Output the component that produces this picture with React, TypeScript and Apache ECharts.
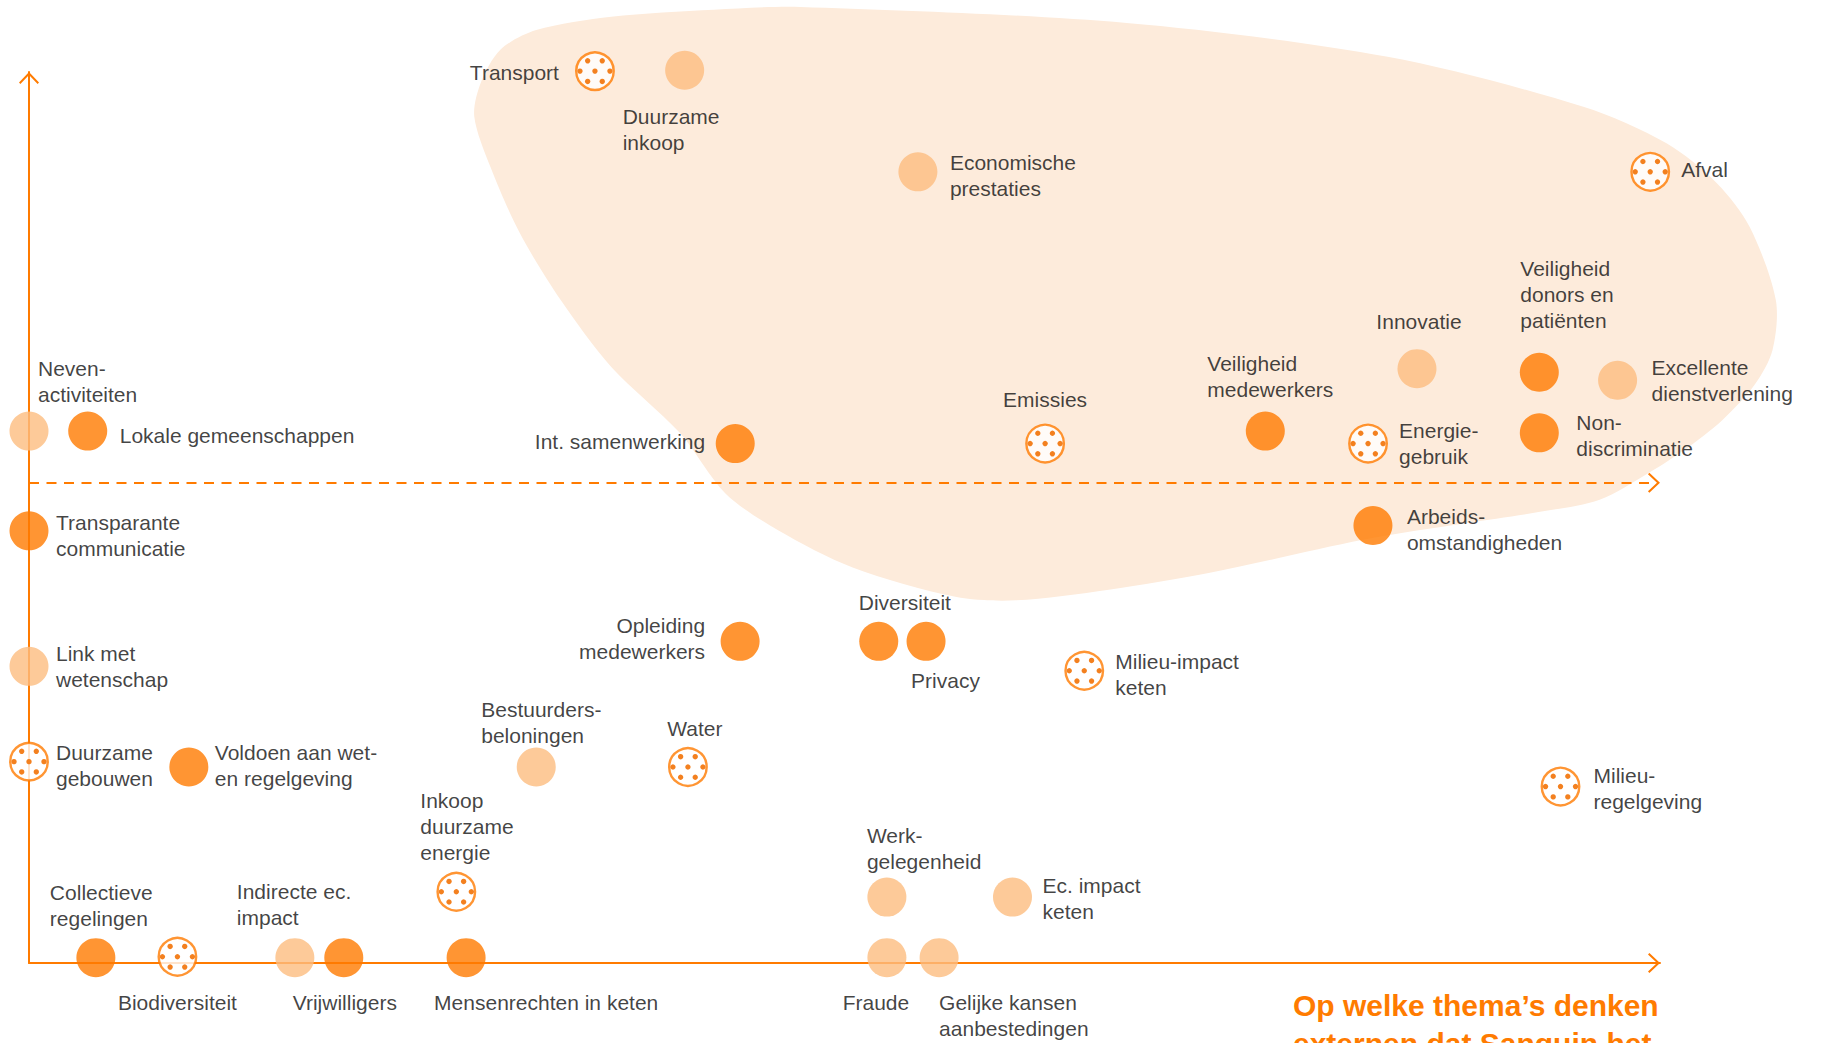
import React, { useEffect, useRef } from 'react';
import * as echarts from 'echarts';

// ---------- data ----------
const themes: string[] = [
  'Transport',
  'Duurzame\ninkoop',
  'Economische\nprestaties',
  'Afval',
  'Veiligheid\ndonors en\npatiënten',
  'Excellente\ndienstverlening',
  'Non-\ndiscriminatie',
  'Innovatie',
  'Veiligheid\nmedewerkers',
  'Energie-\ngebruik',
  'Emissies',
  'Int. samenwerking',
  'Neven-\nactiviteiten',
  'Lokale gemeenschappen',
  'Arbeids-\nomstandigheden',
  'Transparante\ncommunicatie',
  'Link met\nwetenschap',
  'Duurzame\ngebouwen',
  'Voldoen aan wet-\nen regelgeving',
  'Opleiding\nmedewerkers',
  'Bestuurders-\nbeloningen',
  'Water',
  'Inkoop\nduurzame\nenergie',
  'Collectieve\nregelingen',
  'Biodiversiteit',
  'Indirecte ec.\nimpact',
  'Vrijwilligers',
  'Mensenrechten in keten',
  'Fraude',
  'Gelijke kansen\naanbestedingen',
  'Werk-\ngelegenheid',
  'Ec. impact\nketen',
  'Diversiteit',
  'Privacy',
  'Milieu-impact\nketen',
  'Milieu-\nregelgeving',
];

// importance for Sanquin (x) and for stakeholders (y)
const themeX: number[] = [
  34.7, 40.2, 54.5, 99.4, 92.6, 97.4, 92.6, 85.1, 75.8, 82.1, 62.3, 43.3,
  0, 3.6, 82.4, 0, 0, 0, 9.8, 43.6, 31.1, 40.4, 26.2, 4.1,
  9.1, 16.3, 19.3, 26.8, 52.6, 55.8, 52.6, 60.3, 52.1, 55.0, 64.7, 93.9,
];
const themeY: number[] = [
  100.1, 100.2, 88.8, 88.8, 66.3, 65.4, 59.5, 66.7, 59.7, 58.3, 58.3, 58.3,
  59.7, 59.7, 49.1, 48.5, 33.3, 22.6, 22.0, 36.1, 22.0, 22.0, 8.0, 0.6,
  0.7, 0.6, 0.6, 0.6, 0.6, 0.6, 7.4, 7.4, 36.1, 36.1, 32.8, 19.8,
];
// S = sociaal (donker), E = economisch (licht), M = milieu (gestippeld)
const themeKind: string[] = [
  'M', 'E', 'E', 'M', 'S', 'E', 'S', 'E', 'S', 'M', 'M', 'S',
  'E', 'S', 'S', 'S', 'E', 'M', 'S', 'S', 'E', 'M', 'M', 'S',
  'M', 'E', 'S', 'S', 'E', 'E', 'E', 'E', 'S', 'S', 'M', 'M',
];

// quadrant dividers
const dividerX = 49.5;
const dividerY = 53.9;

// highlighted area outline (data coordinates)
const areaX: number[] = [
  27.3, 27.7, 28.9, 31.1, 35.7, 42.0, 47.3, 67.3, 83.3, 95.3, 100.4, 103.5,
  105.5, 107.1, 106.9, 105.8, 103.8, 101.5, 99.4, 96.3, 92.2, 88.2, 81.8,
  72.4, 66.2, 60.5, 56.8, 50.5, 45.9, 42.7, 39.9, 35.7, 32.6, 30.1, 28.3,
];
const areaY: number[] = [
  95.0, 98.8, 102.5, 104.7, 106.2, 107.0, 107.3, 105.5, 101.7, 96.1, 92.0, 87.5,
  82.6, 74.4, 68.8, 64.9, 60.9, 57.6, 55.1, 52.0, 50.5, 49.4, 47.5,
  43.8, 41.9, 40.7, 41.1, 44.4, 48.6, 52.7, 59.5, 66.9, 74.4, 81.9, 89.3,
];

const titleText = 'Op welke thema’s denken\nexternen dat Sanquin het';

// ---------- styling ----------
const ORANGE = '#FF7B00';
const LIGHT = '#FDBD80';
const AREA = '#FDEBDB';
const DOT = '#F3801F';
const TEXT = '#111111';
const FONT = '"Liberation Sans", Arial, sans-serif';

// label placement per theme (offset from marker centre, px) and alignment
const labelPlacement: [number, number, string][] = [
  [-36, 1, 'right'],
  [-62, 59, 'left'],
  [32, 4, 'left'],
  [31, -2, 'left'],
  [-19, -78, 'left'],
  [34, 0, 'left'],
  [37, 3, 'left'],
  [2, -47, 'center'],
  [-58, -55, 'left'],
  [31, 0, 'left'],
  [0, -44, 'center'],
  [-30, -2, 'right'],
  [9, -50, 'left'],
  [32, 4, 'left'],
  [34, 4, 'left'],
  [27, 5, 'left'],
  [27, 0, 'left'],
  [27, 4, 'left'],
  [26, -1, 'left'],
  [-35, -3, 'right'],
  [-55, -44, 'left'],
  [7, -38, 'center'],
  [-36, -65, 'left'],
  [-46, -52, 'left'],
  [0, 46, 'center'],
  [-58, -53, 'left'],
  [1, 45, 'center'],
  [-32, 45, 'left'],
  [-11, 45, 'center'],
  [0, 58, 'left'],
  [-20, -49, 'left'],
  [30, 1, 'left'],
  [-20, -39, 'left'],
  [-15, 39, 'left'],
  [31, 4, 'left'],
  [33, 2, 'left'],
];

const DOT_OFFSETS: [number, number][] = [
  [-7.3, -10.3], [7.3, -10.3],
  [-15, 0], [0, 0], [15, 0],
  [-7.3, 10.3], [7.3, 10.3],
];

const CHEVRON = 'path://M10,0 L20,10.6 L18.6,12 L10,3 L1.4,12 L0,10.6 Z';

function buildOption(): any {
  const scatterData = themes.map((name, i) => {
    const kind = themeKind[i];
    const [dx, dy, align] = labelPlacement[i];
    const itemStyle =
      kind === 'M'
        ? { color: '#ffffff', borderColor: ORANGE, borderWidth: 2.4 }
        : { color: kind === 'S' ? ORANGE : LIGHT, borderWidth: 0 };
    return {
      name,
      value: [themeX[i], themeY[i]],
      symbolSize: kind === 'M' ? 37.5 : 39,
      itemStyle,
      label: {
        show: true,
        position: 'inside',
        offset: [dx, dy],
        align,
        verticalAlign: 'middle',
      },
    };
  });

  const dotData = themes
    .map((name, i) => ({ name, value: [themeX[i], themeY[i]], kind: themeKind[i] }))
    .filter((d) => d.kind === 'M')
    .map((d) => ({ name: d.name, value: d.value }));

  const areaData = areaX.map((x, i) => [x, areaY[i]]);

  return {
    animation: false,
    backgroundColor: '#ffffff',
    title: {
      text: titleText,
      left: 1293,
      top: 987,
      padding: 0,
      textStyle: {
        color: ORANGE,
        fontFamily: FONT,
        fontWeight: 'bold',
        fontSize: 30,
        lineHeight: 37.5,
      },
    },
    grid: { left: 29, right: 163, top: 72, bottom: 80, containLabel: false },
    xAxis: {
      type: 'value',
      min: 0,
      max: 100,
      axisLine: {
        show: true,
        onZero: false,
        symbol: ['none', CHEVRON],
        symbolSize: [20, 12],
        symbolOffset: [0, -6],
        lineStyle: { color: ORANGE, width: 2 },
      },
      axisTick: { show: false },
      axisLabel: { show: false },
      splitLine: { show: false },
    },
    yAxis: {
      type: 'value',
      min: 0,
      max: 100,
      axisLine: {
        show: true,
        onZero: false,
        symbol: ['none', CHEVRON],
        symbolSize: [20, 12],
        symbolOffset: [0, -6],
        lineStyle: { color: ORANGE, width: 2 },
      },
      axisTick: { show: false },
      axisLabel: { show: false },
      splitLine: { show: false },
    },
    series: [
      {
        type: 'custom',
        name: 'area',
        z: 1,
        clip: false,
        silent: true,
        data: areaData,
        renderItem: (params: any, api: any) => {
          if (params.dataIndex !== 0) return null;
          const pts = areaX.map((x, i) => api.coord([x, areaY[i]]));
          return {
            type: 'polygon',
            shape: { points: pts, smooth: 0.3 },
            style: { fill: AREA },
          };
        },
      },
      {
        type: 'scatter',
        name: 'themes',
        z: 3,
        clip: false,
        symbol: 'circle',
        emphasis: { disabled: true },
        label: {
          show: true,
          formatter: '{b}',
          color: TEXT,
          fontFamily: FONT,
          fontSize: 21,
          lineHeight: 26,
        },
        data: scatterData,
        markLine: {
          silent: true,
          z: 2,
          symbol: ['none', CHEVRON],
          symbolSize: [20, 12],
          label: { show: false },
          emphasis: { disabled: true },
          lineStyle: { color: ORANGE, width: 2, type: [10, 7.5] },
          data: [
            [{ coord: [0, dividerY] }, { coord: [99.63, dividerY] }],
            [{ coord: [dividerX, 0] }, { coord: [dividerX, 100.2] }],
          ],
        },
      },
      {
        type: 'custom',
        name: 'dots',
        z: 4,
        clip: false,
        silent: true,
        data: dotData,
        renderItem: (params: any, api: any) => {
          const c = api.coord([api.value(0), api.value(1)]);
          return {
            type: 'group',
            children: DOT_OFFSETS.map(([dx, dy]) => ({
              type: 'circle',
              shape: { cx: c[0] + dx, cy: c[1] + dy, r: 2.7 },
              style: { fill: DOT },
            })),
          };
        },
      },
    ],
  };
}

export default function App() {
  const ref = useRef<HTMLDivElement | null>(null);
  useEffect(() => {
    if (!ref.current) return;
    const chart = echarts.init(ref.current, undefined, { renderer: 'svg' });
    chart.setOption(buildOption());
    return () => {
      chart.dispose();
    };
  }, []);
  return (
    <div
      ref={ref}
      style={{
        position: 'fixed',
        left: 0,
        top: 0,
        width: '1823px',
        height: '1043px',
        background: '#ffffff',
      }}
    />
  );
}
